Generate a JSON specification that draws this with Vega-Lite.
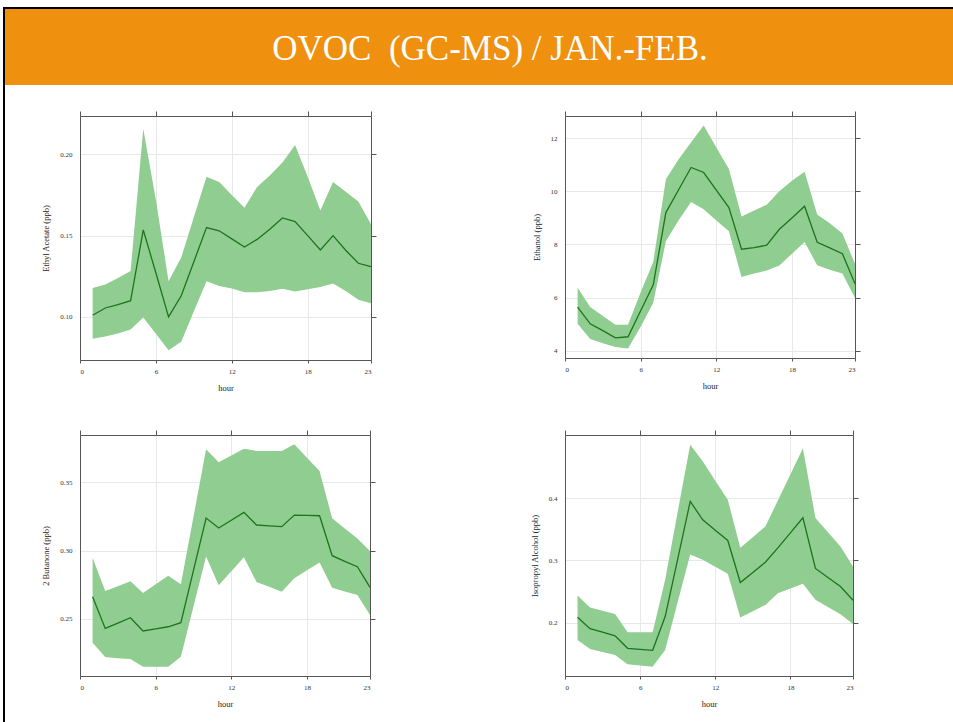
{
  "$schema": "https://vega.github.io/schema/vega-lite/v6.json",
  "background": "white",
  "padding": {"left": 3, "top": 7, "right": 0, "bottom": 0},
  "config": {
    "view": {"stroke": null},
    "concat": {"spacing": 0},
    "axis": {
      "labelFont": "Liberation Serif", "titleFont": "Liberation Serif",
      "labelFontSize": 7, "titleFontSize": 8.5, "titleFontWeight": "normal",
      "labelColor": "#333333", "titleColor": "#222222",
      "domainColor": "#555555", "tickColor": "#555555", "gridColor": "#e8e8e8",
      "tickSize": 5
    }
  },
  "datasets": {
    "ethyl": [
      {"hour": 1, "mean": 0.101, "lo": 0.0865, "hi": 0.1178},
      {"hour": 2, "mean": 0.1055, "lo": 0.088, "hi": 0.120},
      {"hour": 3, "mean": 0.1076, "lo": 0.0898, "hi": 0.124},
      {"hour": 4, "mean": 0.110, "lo": 0.0922, "hi": 0.1283},
      {"hour": 5, "mean": 0.1535, "lo": 0.0996, "hi": 0.2158},
      {"hour": 6, "mean": 0.127, "lo": 0.0896, "hi": 0.172},
      {"hour": 7, "mean": 0.100, "lo": 0.0795, "hi": 0.122},
      {"hour": 8, "mean": 0.113, "lo": 0.0848, "hi": 0.1365},
      {"hour": 9, "mean": 0.134, "lo": 0.1035, "hi": 0.1615},
      {"hour": 10, "mean": 0.155, "lo": 0.122, "hi": 0.1863},
      {"hour": 11, "mean": 0.153, "lo": 0.119, "hi": 0.183},
      {"hour": 12, "mean": 0.148, "lo": 0.1175, "hi": 0.175},
      {"hour": 13, "mean": 0.143, "lo": 0.1152, "hi": 0.1672},
      {"hour": 14, "mean": 0.1477, "lo": 0.1152, "hi": 0.180},
      {"hour": 15, "mean": 0.154, "lo": 0.116, "hi": 0.187},
      {"hour": 16, "mean": 0.1609, "lo": 0.1174, "hi": 0.195},
      {"hour": 17, "mean": 0.1586, "lo": 0.1156, "hi": 0.2057},
      {"hour": 18, "mean": 0.150, "lo": 0.117, "hi": 0.186},
      {"hour": 19, "mean": 0.1412, "lo": 0.1184, "hi": 0.1654},
      {"hour": 20, "mean": 0.150, "lo": 0.1205, "hi": 0.183},
      {"hour": 21, "mean": 0.141, "lo": 0.116, "hi": 0.177},
      {"hour": 22, "mean": 0.133, "lo": 0.1105, "hi": 0.171},
      {"hour": 23, "mean": 0.131, "lo": 0.1084, "hi": 0.157}
    ],
    "ethanol": [
      {"hour": 1, "mean": 5.64, "lo": 5.01, "hi": 6.37},
      {"hour": 2, "mean": 5.01, "lo": 4.44, "hi": 5.64},
      {"hour": 3, "mean": 4.75, "lo": 4.28, "hi": 5.30},
      {"hour": 4, "mean": 4.48, "lo": 4.13, "hi": 4.97},
      {"hour": 5, "mean": 4.52, "lo": 4.08, "hi": 4.97},
      {"hour": 6, "mean": 5.5, "lo": 4.9, "hi": 6.2},
      {"hour": 7, "mean": 6.48, "lo": 5.8, "hi": 7.34},
      {"hour": 8, "mean": 9.2, "lo": 8.12, "hi": 10.46},
      {"hour": 9, "mean": 10.05, "lo": 8.9, "hi": 11.2},
      {"hour": 10, "mean": 10.9, "lo": 9.6, "hi": 11.85},
      {"hour": 11, "mean": 10.71, "lo": 9.33, "hi": 12.48},
      {"hour": 12, "mean": 10.05, "lo": 8.9, "hi": 11.65},
      {"hour": 13, "mean": 9.39, "lo": 8.5, "hi": 10.84},
      {"hour": 14, "mean": 7.82, "lo": 6.77, "hi": 9.05},
      {"hour": 15, "mean": 7.88, "lo": 6.9, "hi": 9.28},
      {"hour": 16, "mean": 7.97, "lo": 7.02, "hi": 9.5},
      {"hour": 17, "mean": 8.57, "lo": 7.21, "hi": 10.0},
      {"hour": 18, "mean": 9.0, "lo": 7.65, "hi": 10.4},
      {"hour": 19, "mean": 9.44, "lo": 8.09, "hi": 10.74},
      {"hour": 20, "mean": 8.08, "lo": 7.22, "hi": 9.13},
      {"hour": 21, "mean": 7.87, "lo": 7.05, "hi": 8.8},
      {"hour": 22, "mean": 7.65, "lo": 6.9, "hi": 8.41},
      {"hour": 23, "mean": 6.52, "lo": 5.98, "hi": 7.27}
    ],
    "butanone": [
      {"hour": 1, "mean": 0.2661, "lo": 0.2324, "hi": 0.2947},
      {"hour": 2, "mean": 0.2429, "lo": 0.2219, "hi": 0.2703},
      {"hour": 3, "mean": 0.2468, "lo": 0.221, "hi": 0.2738},
      {"hour": 4, "mean": 0.2507, "lo": 0.2204, "hi": 0.2774},
      {"hour": 5, "mean": 0.241, "lo": 0.2148, "hi": 0.2688},
      {"hour": 6, "mean": 0.2425, "lo": 0.2148, "hi": 0.2752},
      {"hour": 7, "mean": 0.2441, "lo": 0.2148, "hi": 0.2815},
      {"hour": 8, "mean": 0.2471, "lo": 0.2221, "hi": 0.2752},
      {"hour": 9, "mean": 0.2855, "lo": 0.259, "hi": 0.3247},
      {"hour": 10, "mean": 0.3238, "lo": 0.2957, "hi": 0.3742},
      {"hour": 11, "mean": 0.3165, "lo": 0.2745, "hi": 0.3647},
      {"hour": 12, "mean": 0.3222, "lo": 0.2848, "hi": 0.3697},
      {"hour": 13, "mean": 0.328, "lo": 0.295, "hi": 0.3747},
      {"hour": 14, "mean": 0.3187, "lo": 0.2769, "hi": 0.373},
      {"hour": 15, "mean": 0.3181, "lo": 0.2734, "hi": 0.373},
      {"hour": 16, "mean": 0.3175, "lo": 0.2698, "hi": 0.373},
      {"hour": 17, "mean": 0.326, "lo": 0.2796, "hi": 0.3779},
      {"hour": 18, "mean": 0.3258, "lo": 0.2855, "hi": 0.3681},
      {"hour": 19, "mean": 0.3255, "lo": 0.2913, "hi": 0.3583},
      {"hour": 20, "mean": 0.2962, "lo": 0.2727, "hi": 0.3236},
      {"hour": 21, "mean": 0.2921, "lo": 0.27, "hi": 0.3162},
      {"hour": 22, "mean": 0.2881, "lo": 0.2674, "hi": 0.3089},
      {"hour": 23, "mean": 0.273, "lo": 0.2527, "hi": 0.2996}
    ],
    "isopropyl": [
      {"hour": 1, "mean": 0.2086, "lo": 0.1721, "hi": 0.2434},
      {"hour": 2, "mean": 0.1903, "lo": 0.1576, "hi": 0.2241},
      {"hour": 3, "mean": 0.1845, "lo": 0.1528, "hi": 0.219},
      {"hour": 4, "mean": 0.1786, "lo": 0.148, "hi": 0.2139},
      {"hour": 5, "mean": 0.1587, "lo": 0.133, "hi": 0.1845},
      {"hour": 6, "mean": 0.1571, "lo": 0.131, "hi": 0.1845},
      {"hour": 7, "mean": 0.1555, "lo": 0.1292, "hi": 0.1845},
      {"hour": 8, "mean": 0.2097, "lo": 0.156, "hi": 0.2686},
      {"hour": 9, "mean": 0.302, "lo": 0.233, "hi": 0.378},
      {"hour": 10, "mean": 0.3946, "lo": 0.3094, "hi": 0.4858},
      {"hour": 11, "mean": 0.3651, "lo": 0.3008, "hi": 0.459},
      {"hour": 12, "mean": 0.3485, "lo": 0.2895, "hi": 0.428},
      {"hour": 13, "mean": 0.3319, "lo": 0.2783, "hi": 0.3973},
      {"hour": 14, "mean": 0.2643, "lo": 0.208, "hi": 0.3201},
      {"hour": 15, "mean": 0.2806, "lo": 0.2182, "hi": 0.3372},
      {"hour": 16, "mean": 0.297, "lo": 0.2284, "hi": 0.3544},
      {"hour": 17, "mean": 0.32, "lo": 0.2472, "hi": 0.396},
      {"hour": 18, "mean": 0.344, "lo": 0.2547, "hi": 0.438},
      {"hour": 19, "mean": 0.3684, "lo": 0.2622, "hi": 0.4799},
      {"hour": 20, "mean": 0.2869, "lo": 0.2365, "hi": 0.3678},
      {"hour": 21, "mean": 0.2724, "lo": 0.225, "hi": 0.345},
      {"hour": 22, "mean": 0.2579, "lo": 0.2134, "hi": 0.3223},
      {"hour": 23, "mean": 0.2359, "lo": 0.1979, "hi": 0.29}
    ],
    "empty": [],
    "title": [{"t": "OVOC\u00a0 (GC-MS) / JAN.-FEB."}]
  },
  "spacing": 0,
  "hconcat": [
    {"width": 2, "height": 715, "view": {"fill": "black", "stroke": null}, "data": {"name": "empty"}, "mark": "point"},
    {
      "spacing": 0,
      "vconcat": [
        {"width": 948, "height": 2, "view": {"fill": "black", "stroke": null}, "data": {"name": "empty"}, "mark": "point"},
        {"width": 948, "height": 76, "view": {"fill": "#F0900F", "stroke": null}, "data": {"name": "title"},
         "mark": {"type": "text", "font": "Liberation Serif", "fontSize": 35, "color": "white", "baseline": "alphabetic", "align": "center", "dx": 11, "dy": 13},
         "encoding": {"text": {"field": "t"}}},
        {"width": 948, "height": 25, "data": {"name": "empty"}, "mark": "point"},
        {
          "bounds": "flush", "spacing": 0,
          "hconcat": [
            {"width": 75, "height": 313, "data": {"name": "empty"}, "mark": "point"},
            {
              "width": 291, "height": 244,
              "data": {"name": "ethyl"},
              "resolve": {"axis": {"x": "independent", "y": "independent"}},
              "layer": [
                {"mark": {"type": "area", "color": "#90cd90", "opacity": 1},
                 "encoding": {
                   "x": {"field": "hour", "type": "quantitative", "scale": {"domain": [0, 23], "nice": false}, "title": "hour",
                         "axis": {"orient": "bottom", "values": [0, 6, 12, 18, 23], "grid": true, "tickSize": 3, "labelPadding": 4, "titlePadding": 9}},
                   "y": {"field": "lo", "type": "quantitative", "scale": {"domain": [0.0735, 0.2236], "nice": false, "zero": false}, "title": "Ethyl Acetate (ppb)",
                         "axis": {"orient": "left", "values": [0.10, 0.15, 0.20], "format": ".2f", "grid": true, "ticks": false, "labelPadding": 8, "titlePadding": 9}},
                   "y2": {"field": "hi"}}},
                {"mark": {"type": "line", "color": "#1d741d", "strokeWidth": 1.3},
                 "encoding": {
                   "x": {"field": "hour", "type": "quantitative", "scale": {"domain": [0, 23], "nice": false}, "title": null,
                         "axis": {"orient": "top", "values": [0, 6, 12, 18, 23], "labels": false, "grid": false}},
                   "y": {"field": "mean", "type": "quantitative", "scale": {"domain": [0.0735, 0.2236], "nice": false, "zero": false}, "title": null,
                         "axis": {"orient": "right", "values": [0.10, 0.15, 0.20], "labels": false, "grid": false}}}}
              ]
            },
            {"width": 194, "height": 313, "data": {"name": "empty"}, "mark": "point"},
            {
              "width": 290, "height": 242,
              "data": {"name": "ethanol"},
              "resolve": {"axis": {"x": "independent", "y": "independent"}},
              "layer": [
                {"mark": {"type": "area", "color": "#90cd90", "opacity": 1},
                 "encoding": {
                   "x": {"field": "hour", "type": "quantitative", "scale": {"domain": [0, 23], "nice": false}, "title": "hour",
                         "axis": {"orient": "bottom", "values": [0, 6, 12, 18, 23], "grid": true, "tickSize": 3, "labelPadding": 4, "titlePadding": 9}},
                   "y": {"field": "lo", "type": "quantitative", "scale": {"domain": [3.72, 12.84], "nice": false, "zero": false}, "title": "Ethanol (ppb)",
                         "axis": {"orient": "left", "values": [4, 6, 8, 10, 12], "format": "d", "grid": true, "ticks": false, "labelPadding": 8, "titlePadding": 9}},
                   "y2": {"field": "hi"}}},
                {"mark": {"type": "line", "color": "#1d741d", "strokeWidth": 1.3},
                 "encoding": {
                   "x": {"field": "hour", "type": "quantitative", "scale": {"domain": [0, 23], "nice": false}, "title": null,
                         "axis": {"orient": "top", "values": [0, 6, 12, 18, 23], "labels": false, "grid": false}},
                   "y": {"field": "mean", "type": "quantitative", "scale": {"domain": [3.72, 12.84], "nice": false, "zero": false}, "title": null,
                         "axis": {"orient": "right", "values": [4, 6, 8, 10, 12], "labels": false, "grid": false}}}}
              ]
            }
          ]
        },
        {
          "bounds": "flush", "spacing": 0,
          "hconcat": [
            {"width": 75, "height": 283, "data": {"name": "empty"}, "mark": "point"},
            {
              "width": 290, "height": 241,
              "data": {"name": "butanone"},
              "resolve": {"axis": {"x": "independent", "y": "independent"}},
              "layer": [
                {"mark": {"type": "area", "color": "#90cd90", "opacity": 1},
                 "encoding": {
                   "x": {"field": "hour", "type": "quantitative", "scale": {"domain": [0, 23], "nice": false}, "title": "hour",
                         "axis": {"orient": "bottom", "values": [0, 6, 12, 18, 23], "grid": true, "tickSize": 3, "labelPadding": 4, "titlePadding": 9}},
                   "y": {"field": "lo", "type": "quantitative", "scale": {"domain": [0.208, 0.3847], "nice": false, "zero": false}, "title": "2 Butanone (ppb)",
                         "axis": {"orient": "left", "values": [0.25, 0.30, 0.35], "format": ".2f", "grid": true, "ticks": false, "labelPadding": 8, "titlePadding": 9}},
                   "y2": {"field": "hi"}}},
                {"mark": {"type": "line", "color": "#1d741d", "strokeWidth": 1.3},
                 "encoding": {
                   "x": {"field": "hour", "type": "quantitative", "scale": {"domain": [0, 23], "nice": false}, "title": null,
                         "axis": {"orient": "top", "values": [0, 6, 12, 18, 23], "labels": false, "grid": false}},
                   "y": {"field": "mean", "type": "quantitative", "scale": {"domain": [0.208, 0.3847], "nice": false, "zero": false}, "title": null,
                         "axis": {"orient": "right", "values": [0.25, 0.30, 0.35], "labels": false, "grid": false}}}}
              ]
            },
            {"width": 195, "height": 283, "data": {"name": "empty"}, "mark": "point"},
            {
              "width": 288, "height": 241,
              "data": {"name": "isopropyl"},
              "resolve": {"axis": {"x": "independent", "y": "independent"}},
              "layer": [
                {"mark": {"type": "area", "color": "#90cd90", "opacity": 1},
                 "encoding": {
                   "x": {"field": "hour", "type": "quantitative", "scale": {"domain": [0, 23], "nice": false}, "title": "hour",
                         "axis": {"orient": "bottom", "values": [0, 6, 12, 18, 23], "grid": true, "tickSize": 3, "labelPadding": 4, "titlePadding": 9}},
                   "y": {"field": "lo", "type": "quantitative", "scale": {"domain": [0.1142, 0.5013], "nice": false, "zero": false}, "title": "Isopropyl Alcohol (ppb)",
                         "axis": {"orient": "left", "values": [0.2, 0.3, 0.4], "format": ".1f", "grid": true, "ticks": false, "labelPadding": 8, "titlePadding": 9}},
                   "y2": {"field": "hi"}}},
                {"mark": {"type": "line", "color": "#1d741d", "strokeWidth": 1.3},
                 "encoding": {
                   "x": {"field": "hour", "type": "quantitative", "scale": {"domain": [0, 23], "nice": false}, "title": null,
                         "axis": {"orient": "top", "values": [0, 6, 12, 18, 23], "labels": false, "grid": false}},
                   "y": {"field": "mean", "type": "quantitative", "scale": {"domain": [0.1142, 0.5013], "nice": false, "zero": false}, "title": null,
                         "axis": {"orient": "right", "values": [0.2, 0.3, 0.4], "labels": false, "grid": false}}}}
              ]
            }
          ]
        }
      ]
    }
  ]
}
